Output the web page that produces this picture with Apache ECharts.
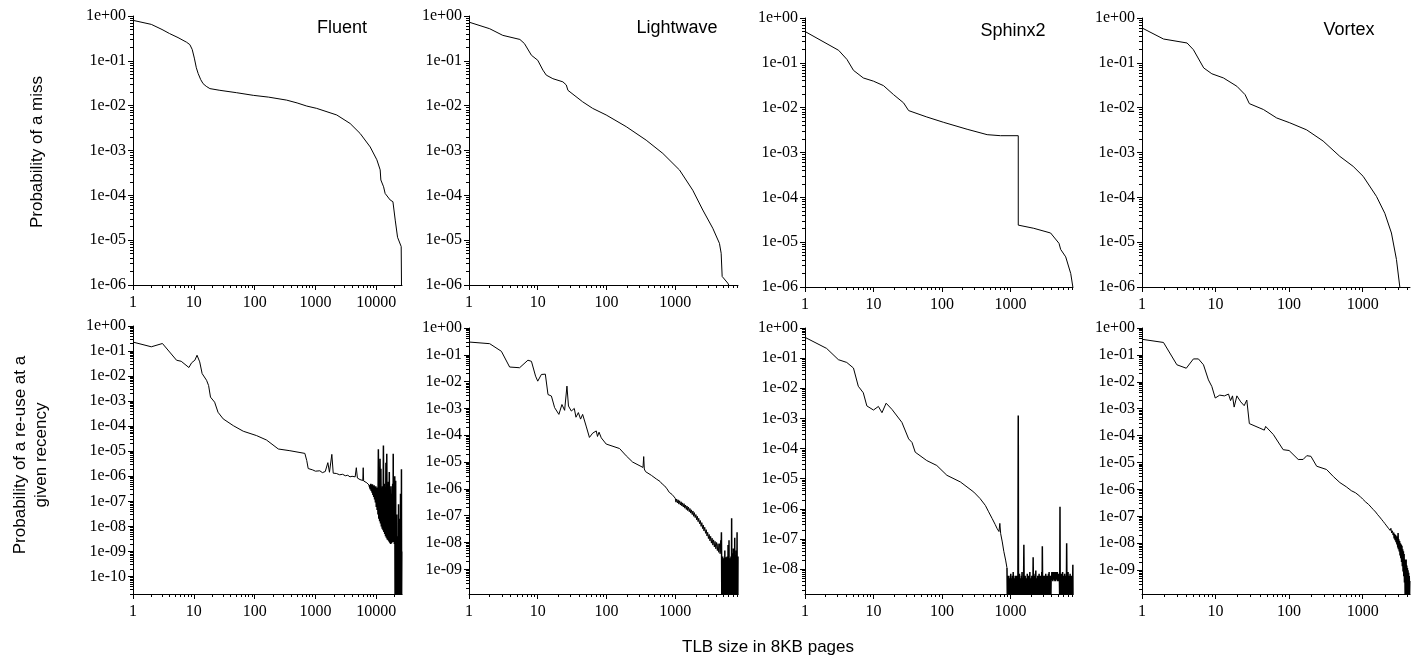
<!DOCTYPE html>
<html><head><meta charset="utf-8">
<script src="https://cdn.jsdelivr.net/npm/echarts@6/dist/echarts.min.js"></script>
<style>html,body{margin:0;padding:0;background:#fff}#c{width:1417px;height:665px}</style>
</head><body><div id="c"></div>
<script>
// ---------------- DATA ----------------
const panelTitles = ['Fluent', 'Lightwave', 'Sphinx2', 'Vortex'];
const yTitleTop = 'Probability of a miss';
const yTitleBottom = 'Probability of a re-use at a\ngiven recency';
const xTitle = 'TLB size in 8KB pages';

const xMaxes = [26500, 8192, 8192, 4400];
const yMinTop = [1e-6, 1e-6, 1e-6, 1e-6];
const yMinBottom = [2e-11, 1.2e-10, 1.5e-9, 1.3e-10];

const xTicksFluent = [1, 10, 100, 1000, 10000];
const xTicksOther = [1, 10, 100, 1000];
const yTicksTop = [1, 1e-1, 1e-2, 1e-3, 1e-4, 1e-5, 1e-6];
const yTicksFluentB = [1, 1e-1, 1e-2, 1e-3, 1e-4, 1e-5, 1e-6, 1e-7, 1e-8, 1e-9, 1e-10];
const yTicksLightB = [1, 1e-1, 1e-2, 1e-3, 1e-4, 1e-5, 1e-6, 1e-7, 1e-8, 1e-9];
const yTicksSphinxB = [1, 1e-1, 1e-2, 1e-3, 1e-4, 1e-5, 1e-6, 1e-7, 1e-8];
const yTicksVortexB = [1, 1e-1, 1e-2, 1e-3, 1e-4, 1e-5, 1e-6, 1e-7, 1e-8, 1e-9];

const fluentMiss = [[1,0.80],[2,0.65],[3,0.50],[4,0.405],[5.5,0.33],[7.6,0.26],[8.6,0.23],[9.4,0.18],[10.2,0.115],[11,0.07],[11.8,0.052],[13,0.038],[14.2,0.031],[16,0.027],[18.4,0.024],[26.8,0.022],[50,0.0195],[95,0.017],[170,0.0155],[336,0.0133],[500,0.0115],[719,0.0098],[1048,0.0087],[2240,0.0062],[3720,0.004],[5430,0.0024],[7950,0.0012],[10230,6.2e-4],[11600,3.7e-4],[11900,2.2e-4],[13200,1.55e-4],[14000,1.1e-4],[16900,7.9e-5],[18800,7.2e-5],[20500,2.8e-5],[22400,1.16e-5],[24100,1.16e-5],[25700,7.2e-6],[26000,1e-6]];

const lightMiss = [[1,0.73],[2,0.52],[3.1,0.37],[5.5,0.30],[6.4,0.243],[8.1,0.133],[10,0.103],[11.9,0.062],[13.3,0.048],[16.6,0.040],[23.2,0.034],[26,0.029],[27.5,0.022],[45,0.0122],[63,0.0087],[99,0.0062],[194,0.0034],[378,0.0017],[661,8.6e-4],[1157,3.66e-4],[1800,1.3e-4],[2520,4.7e-5],[3520,1.84e-5],[4400,8.5e-6],[4660,5.1e-6],[4820,1.55e-6],[5820,1.1e-6],[6000,1e-6]];

const sphinxMiss = [[1,0.50],[3.1,0.19],[4.1,0.119],[5.1,0.068],[7.1,0.046],[10,0.039],[14,0.031],[19.6,0.0196],[27.5,0.0128],[32.6,0.0086],[60,0.0062],[106,0.0047],[233,0.0033],[457,0.0025],[716,0.00237],[1300,0.00237],[1300,2.4e-5],[2190,2.04e-5],[3860,1.6e-5],[5120,9.4e-6],[5410,6.9e-6],[6410,4.7e-6],[7590,2.0e-6],[8150,1.0e-6]];

const vortexMiss = [[1,0.60],[1.96,0.34],[4.1,0.277],[5,0.196],[6.9,0.077],[8.9,0.057],[12.8,0.046],[19.5,0.030],[25.2,0.0195],[28.8,0.0123],[44.7,0.0091],[67.7,0.0059],[102,0.0046],[173,0.0032],[290,0.0018],[489,8.2e-4],[743,4.9e-4],[1016,2.94e-4],[1540,1.05e-4],[2000,4.4e-5],[2460,1.6e-5],[2880,4.1e-6],[3200,1e-6]];

const fluentReuse = [[1,0.228],[2,0.148],[3.05,0.20],[5.2,0.043],[6.2,0.039],[8.3,0.022],[9.2,0.034],[10.4,0.043],[11.3,0.068],[12.5,0.037],[13.7,0.0126],[16.2,0.0068],[17.5,0.0042],[18.8,0.00145],[22,9.1e-4],[25,3.6e-4],[30.4,1.96e-4],[44.6,1.05e-4],[65,6.3e-5],[108,4.2e-5],[157,2.8e-5],[245,1.23e-5],[380,1.05e-5],[670,8.2e-6],[720,4.2e-6],[760,2.04e-6],[900,1.8e-6],[1000,1.6e-6],[1180,1.66e-6],[1300,1.4e-6],[1450,1.55e-6],[1500,1.4e-6],[1600,3.5e-6],[1700,1.45e-6],[1860,7.5e-6],[1960,1.33e-6],[2200,1.3e-6],[2500,1.15e-6],[2800,1.2e-6],[3100,1.05e-6],[3400,1.1e-6],[3700,0.95e-6],[4000,1.0e-6],[4300,0.88e-6],[4500,0.95e-6],[4700,2.2e-6],[4900,8.5e-7],[5200,8.8e-7],[5400,7.4e-7],[5700,8e-7],[6000,6.8e-7],[6100,2.2e-6],[6200,6.5e-7],[6600,6.5e-7],[7000,5.5e-7],[7300,5.5e-7],[7600,4.5e-7]];
const fluentReuseTail = [[8000,3e-7],[8130,5e-7],[8260,2.6e-7],[8390,4.6e-7],[8520,2.2e-7],[8660,4.8e-7],[8800,1.8e-7],[8940,4.2e-7],[9080,1.5e-7],[9230,4.4e-7],[9380,1.2e-7],[9530,3.8e-7],[9680,9e-8],[9840,4e-7],[10000,6e-8],[10160,3.5e-7],[10320,4.5e-8],[10490,3.6e-7],[10660,3e-8],[10830,1.2e-5],[11000,2e-8],[11180,3e-7],[11360,1.6e-8],[11540,5e-6],[11730,1.3e-8],[11920,2e-6],[12110,1e-8],[12300,3e-7],[12500,8e-9],[12700,4e-7],[12900,7e-9],[13110,1.7e-5],[13320,6e-9],[13530,5e-7],[13750,5e-9],[13970,3e-7],[14190,4e-9],[14420,3.5e-6],[14650,3.5e-9],[14890,8e-6],[15130,3e-9],[15370,4e-7],[15620,2.8e-9],[15870,6e-7],[16120,2.5e-9],[16380,1.5e-6],[16640,2.2e-9],[16910,3e-7],[17180,2e-9],[17460,4e-7],[17740,2.1e-9],[18020,2e-7],[18310,2.3e-9],[18610,5e-7],[18910,2.5e-9],[19000,8e-6],[19210,2.4e-9],[19520,5e-7],[19830,2e-9],[20150,1e-6],[20400,1e-11],[20550,2.2e-10],[20700,1e-11],[20850,6.6e-7],[21000,1e-11],[21150,2e-10],[21300,1e-11],[21450,1.5e-9],[21600,1e-11],[21750,3e-8],[21900,1e-11],[22050,2.1e-10],[22200,1e-11],[22350,4e-9],[22500,1e-11],[22650,1.5e-9],[22800,1e-11],[22950,2e-10],[23100,1e-11],[23250,7.6e-8],[23400,1e-11],[23550,2.5e-10],[23700,1e-11],[23850,3e-9],[24000,1e-11],[24150,2e-10],[24300,1e-11],[24450,2e-8],[24600,1e-11],[24750,2e-10],[24900,1e-11],[25050,2e-7],[25200,1e-11],[25350,2e-10],[25500,1e-11],[25650,5e-9],[25800,1e-11],[25950,1.9e-6],[26100,1e-11],[26300,1e-9]];

const lightReuse = [[1,0.30],[2,0.26],[2.96,0.135],[3.9,0.035],[5.45,0.033],[7.2,0.063],[8.1,0.057],[9.3,0.016],[10,0.0104],[11.3,0.0185],[12.9,0.019],[14.1,0.0033],[15.8,0.0029],[17.6,0.00107],[20.3,6e-4],[22.5,0.0014],[24.6,8.5e-4],[26.6,0.0068],[28,0.00123],[30.8,8e-4],[34,0.001],[36,4.7e-4],[39,7e-4],[42,4e-4],[45,6e-4],[50.6,2.2e-4],[56.5,8.3e-5],[63,1.2e-4],[71,1.45e-4],[74,9e-5],[78,1.3e-4],[84,8e-5],[99,4.7e-5],[155,3.2e-5],[194,1.7e-5],[240,1e-5],[340,6.3e-6],[348,1.6e-5],[355,5.5e-6],[370,4.4e-6],[450,3.2e-6],[530,2.35e-6],[600,1.9e-6],[650,1.5e-6],[700,1.3e-6],[760,1.0e-6],[820,7.4e-7],[860,8e-7],[900,6.2e-7],[950,6.6e-7],[1000,4.5e-7],[1025,3.2e-7],[1050,4.2e-7],[1076,3e-7],[1103,3.9e-7],[1130,2.7e-7],[1160,3.6e-7],[1190,2.5e-7],[1220,3.3e-7],[1250,2.3e-7],[1280,3e-7],[1310,2.1e-7],[1345,2.8e-7],[1380,1.9e-7],[1415,2.5e-7],[1450,1.7e-7],[1485,2.3e-7],[1520,1.55e-7],[1560,2.1e-7],[1600,1.4e-7],[1640,1.85e-7],[1680,1.25e-7],[1720,1.65e-7],[1765,1.1e-7],[1810,1.5e-7],[1855,9.5e-8],[1900,1.3e-7],[1950,8.5e-8],[2000,1.1e-7],[2050,7e-8],[2100,9.5e-8],[2150,6e-8],[2200,8e-8],[2260,5e-8],[2320,6.6e-8],[2380,4e-8],[2440,5.5e-8],[2500,3.3e-8],[2560,4.5e-8],[2620,2.7e-8],[2690,3.7e-8],[2760,2.2e-8],[2830,3e-8],[2900,1.75e-8],[2970,2.4e-8],[3040,1.4e-8],[3120,2e-8],[3200,1.15e-8],[3280,1.7e-8],[3360,9.5e-9],[3440,1.45e-8],[3530,8e-9],[3620,1.25e-8],[3710,6.8e-9],[3800,1.1e-8],[3900,5.8e-9],[4000,1e-8],[4100,5e-9],[4200,9e-9],[4300,4.3e-9],[4400,9e-9],[4500,3.8e-9],[4600,1.2e-8],[4660,4.3e-9]];
const lightReuseTail = [[4700,2.4e-8],[4730,3e-9],[4760,1e-10],[4790,2.2e-9],[4820,1e-10],[4850,1.6e-9],[4880,1e-10],[4910,3e-9],[4940,1e-10],[4970,2e-9],[5000,1e-10],[5030,1.5e-9],[5060,1e-10],[5090,2.6e-9],[5120,1e-10],[5150,2.5e-9],[5180,1e-10],[5210,1.8e-9],[5240,1e-10],[5270,5e-9],[5300,1e-10],[5330,2.2e-9],[5360,1e-10],[5390,2e-9],[5420,1e-10],[5450,1.8e-9],[5480,1e-10],[5510,2.8e-9],[5540,1e-10],[5570,1.8e-9],[5600,1e-10],[5630,2.4e-9],[5660,1e-10],[5690,3e-9],[5720,1e-10],[5750,2e-9],[5780,1e-10],[5810,2.2e-9],[5840,1e-10],[5870,8e-9],[5900,1e-10],[5930,2.4e-9],[5960,1e-10],[5990,2e-9],[6020,1e-10],[6060,1.2e-8],[6100,1e-10],[6140,2.5e-9],[6180,1e-10],[6220,1.7e-9],[6260,1e-10],[6300,2.6e-9],[6340,1e-10],[6380,1.5e-9],[6420,1e-10],[6460,3e-9],[6500,1e-10],[6540,2e-9],[6580,1e-10],[6620,8e-8],[6660,1e-10],[6700,2e-9],[6740,1e-10],[6780,4e-9],[6820,1e-10],[6860,2.2e-9],[6900,1e-10],[6940,2e-9],[6980,1e-10],[7020,6e-9],[7060,1e-10],[7100,2.4e-9],[7140,1e-10],[7180,2e-9],[7220,1e-10],[7260,1.6e-9],[7300,1e-10],[7340,1.5e-8],[7380,1e-10],[7420,2e-9],[7460,1e-10],[7500,3e-9],[7540,1e-10],[7580,2.2e-9],[7620,1e-10],[7660,2e-9],[7700,1e-10],[7740,5e-9],[7780,1e-10],[7820,2.4e-9],[7860,1e-10],[7900,1.8e-9],[7940,2.4e-8],[7980,1e-10],[8020,2e-9],[8060,1e-10],[8100,2.6e-9],[8150,1e-10],[8192,3e-9]];

const sphinxReuse = [[1,0.49],[2.07,0.21],[3.07,0.089],[4.07,0.072],[5.1,0.047],[6.0,0.0117],[7.1,0.0071],[8.0,0.0026],[10,0.0019],[11.8,0.0025],[13.3,0.00155],[14.2,0.0017],[15.3,0.0032],[18.6,0.002],[26,7.4e-4],[27.7,7.8e-4],[32.6,2.1e-4],[36.5,1.6e-4],[40.7,7.6e-5],[60,4.0e-5],[84,2.75e-5],[118,1.3e-5],[186,7.8e-6],[292,3.6e-6],[360,2.2e-6],[430,1.3e-6],[480,8e-7],[540,4.8e-7],[600,3e-7],[640,2.2e-7],[680,1.77e-7],[700,3.3e-7],[720,1.5e-7],[760,8e-8],[800,3.9e-8],[850,2e-8],[890,1.1e-8]];
const sphinxReuseTail = [[900,1e-9],[910,4e-9],[920,1e-9],[930,6e-9],[940,1e-9],[950,5e-9],[960,1e-9],[970,4e-9],[980,1e-9],[990,6e-9],[1000,1e-9],[1010,7e-9],[1020,1e-9],[1030,4e-9],[1040,1e-9],[1050,5e-9],[1060,1e-9],[1072,6e-9],[1085,1e-9],[1097,8e-9],[1110,1e-9],[1122,5e-9],[1135,1e-9],[1147,4e-9],[1160,1e-9],[1172,6e-9],[1185,1e-9],[1197,5e-9],[1210,1e-9],[1225,6e-9],[1240,1e-9],[1255,5e-9],[1270,1e-9],[1285,4e-9],[1300,1.25e-3],[1310,1e-9],[1325,5e-9],[1340,1e-9],[1355,7e-9],[1370,1e-9],[1385,5e-9],[1400,1e-9],[1415,4e-9],[1430,1e-9],[1445,6e-9],[1460,1e-9],[1475,8e-9],[1490,1e-9],[1505,4e-9],[1520,1e-9],[1535,5e-9],[1550,1e-9],[1570,6.4e-8],[1590,1e-9],[1607,5e-9],[1625,1e-9],[1642,6e-9],[1660,1e-9],[1680,4e-9],[1700,1e-9],[1720,5e-9],[1740,1e-9],[1760,7e-9],[1780,1e-9],[1800,5e-9],[1820,1e-9],[1840,6e-9],[1860,1e-9],[1880,5e-9],[1900,1e-9],[1920,8e-9],[1940,1e-9],[1962,5e-9],[1985,1e-9],[2007,4e-9],[2030,1e-9],[2052,6e-9],[2075,1e-9],[2097,5e-9],[2120,1e-9],[2145,2.5e-8],[2170,1e-9],[2195,6e-9],[2220,1e-9],[2245,5e-9],[2270,1e-9],[2295,7e-9],[2320,1e-9],[2345,9e-9],[2370,1e-9],[2395,5e-9],[2420,1e-9],[2447,4e-9],[2475,1e-9],[2502,6e-9],[2530,1e-9],[2560,5e-9],[2590,1e-9],[2620,7e-9],[2650,1e-9],[2680,6e-9],[2710,1e-9],[2740,5e-9],[2770,1e-9],[2800,6e-9],[2830,1e-9],[2865,8e-9],[2900,1e-9],[2920,5.7e-8],[2960,1e-9],[2995,6e-9],[3030,1e-9],[3065,5e-9],[3100,1e-9],[3135,6e-9],[3170,1e-9],[3205,4e-9],[3240,1e-9],[3275,7e-9],[3310,1e-9],[3350,5e-9],[3390,1e-9],[3430,6e-9],[3470,1e-9],[3510,5e-9],[3550,1e-9],[3590,7e-9],[3630,1e-9],[3670,8e-9],[3710,1e-9],[3755,6e-9],[3800,1e-9],[3845,5e-9],[3890,1e-9],[3935,6e-9],[3980,5e-9],[4025,8e-9],[4070,4.5e-9],[4115,7e-9],[4160,4e-9],[4210,8e-9],[4260,4.5e-9],[4310,7e-9],[4360,4.5e-9],[4410,8e-9],[4460,4e-9],[4510,7e-9],[4560,4e-9],[4615,8e-9],[4670,4.5e-9],[4725,7e-9],[4780,4.5e-9],[4835,8e-9],[4890,4e-9],[4945,7e-9],[5000,4e-9],[5060,7e-9],[5120,4e-9],[5180,6e-9],[5240,1e-9],[5290,1.17e-6],[5330,1e-9],[5390,6e-9],[5450,1e-9],[5515,7e-9],[5580,1e-9],[5645,6e-9],[5710,1e-9],[5775,8e-9],[5840,1e-9],[5910,5e-9],[5980,1e-9],[6050,6e-9],[6120,1e-9],[6190,7e-9],[6260,1e-9],[6330,5e-9],[6400,1e-9],[6475,6e-9],[6550,1e-9],[6620,7.3e-8],[6700,1e-9],[6780,7e-9],[6860,1e-9],[6940,8e-9],[7020,1e-9],[7100,6e-9],[7180,1e-9],[7265,5e-9],[7350,1e-9],[7435,7e-9],[7520,1e-9],[7610,6e-9],[7700,1e-9],[7790,5e-9],[7880,1e-9],[7970,6e-9],[8060,1e-9],[8150,1.4e-8],[8192,1e-9]];

const vortexReuse = [[1,0.38],[1.96,0.29],[2.98,0.043],[4.0,0.032],[5.0,0.071],[5.85,0.071],[6.85,0.043],[8.0,0.0118],[8.9,0.0067],[9.9,0.0025],[11.4,0.0032],[13.2,0.003],[15,0.0035],[16,0.002],[17,0.003],[17.9,0.00115],[19.5,0.003],[22,0.0018],[24.5,0.0013],[26.6,0.0021],[28.8,2.8e-4],[40,1.9e-4],[46,1.6e-4],[48,2.2e-4],[61,1.1e-4],[83,3.0e-5],[100,2.8e-5],[133,1.3e-5],[155,1.3e-5],[174,1.8e-5],[198,1.7e-5],[237,7.3e-6],[323,5.5e-6],[400,3e-6],[490,1.8e-6],[600,1.25e-6],[700,9e-7],[800,7.5e-7],[915,5.6e-7],[960,5.6e-7],[1000,4.4e-7],[1050,4.4e-7],[1100,3.4e-7],[1150,3.6e-7],[1200,2.8e-7],[1250,2.9e-7],[1300,2.2e-7],[1350,2.4e-7],[1390,1.8e-7],[1450,1.9e-7],[1500,1.45e-7],[1550,1.55e-7],[1600,1.15e-7],[1650,1.25e-7],[1700,9.5e-8],[1750,1.05e-7],[1800,7.8e-8],[1850,8.6e-8],[1900,6.5e-8],[1950,7.4e-8],[2000,5.4e-8],[2060,6e-8],[2120,4.4e-8],[2180,5e-8],[2240,3.6e-8],[2300,4.2e-8],[2360,3e-8],[2420,3.6e-8],[2480,2.4e-8],[2540,2.9e-8],[2600,2e-8]];
const vortexReuseTail = [[2640,2.5e-8],[2680,1.5e-8],[2720,2.2e-8],[2760,1.3e-8],[2800,2e-8],[2840,1.1e-8],[2880,1.8e-8],[2920,9e-9],[2960,1.6e-8],[3000,7e-9],[3030,2.4e-8],[3060,6e-9],[3100,1.4e-8],[3140,5e-9],[3180,1.2e-8],[3220,3.5e-9],[3260,1e-8],[3300,2.8e-9],[3340,9e-9],[3380,2e-9],[3420,8e-9],[3460,1.4e-9],[3500,6e-9],[3540,9e-10],[3580,5e-9],[3620,6e-10],[3660,4e-9],[3700,3.5e-10],[3740,2.5e-9],[3780,1e-10],[3820,2e-9],[3860,1e-10],[3900,2.5e-9],[3940,1e-10],[3980,1.5e-9],[4020,1e-10],[4060,1.2e-9],[4100,1e-10],[4140,1e-9],[4180,1e-10],[4220,8e-10],[4260,1e-10],[4300,6e-10],[4340,1e-10],[4370,4e-10]];

// ---------------- LAYOUT ----------------
const grids = [
  {left:133, top:16, width:269, height:269},
  {left:469, top:16, width:269, height:269},
  {left:805, top:18, width:268, height:269},
  {left:1142, top:18, width:268, height:269},
  {left:133, top:326, width:269, height:268},
  {left:469, top:328, width:269, height:266},
  {left:805, top:328, width:268, height:266},
  {left:1142, top:328, width:268, height:266}
];
const panelData = [fluentMiss, lightMiss, sphinxMiss, vortexMiss, fluentReuse, lightReuse, sphinxReuse, vortexReuse];
const panelTail = [null, null, null, null, fluentReuseTail, lightReuseTail, sphinxReuseTail, vortexReuseTail];
const panelXTicks = [xTicksFluent, xTicksOther, xTicksOther, xTicksOther, xTicksFluent, xTicksOther, xTicksOther, xTicksOther];
const panelYTicks = [yTicksTop, yTicksTop, yTicksTop, yTicksTop, yTicksFluentB, yTicksLightB, yTicksSphinxB, yTicksVortexB];
const panelYMin = yMinTop.concat(yMinBottom);

function minorTicks(lo, hi) {
  const out = [];
  for (let e = Math.floor(Math.log10(lo)); e <= Math.ceil(Math.log10(hi)); e++) {
    for (let k = 2; k <= 9; k++) {
      const v = k * Math.pow(10, e);
      if (v >= lo && v <= hi) out.push(v);
    }
  }
  return out;
}
const expLabel = v => {
  const e = Math.round(Math.log10(v));
  return '1e' + (e < 0 ? '-' : '+') + String(Math.abs(e)).padStart(2, '0');
};
const serif = 'Liberation Serif';
const sans = 'Liberation Sans';

const xAxes = [], yAxes = [], series = [];
grids.forEach((g, i) => {
  const xmax = xMaxes[i % 4];
  const ymin = panelYMin[i];
  xAxes.push({
    type: 'log', gridIndex: i, min: 1, max: xmax, position: 'bottom',
    axisLine: {show: true, lineStyle: {color: '#000', width: 1}},
    axisTick: {show: true, length: 5, lineStyle: {color: '#000'}, customValues: panelXTicks[i]},
    axisLabel: {show: true, margin: 10, color: '#000', fontFamily: serif, fontSize: 16,
      customValues: panelXTicks[i], formatter: v => String(Math.round(v))},
    splitLine: {show: false}
  });
  xAxes.push({
    type: 'log', gridIndex: i, min: 1, max: xmax, position: 'bottom',
    axisLine: {show: false},
    axisTick: {show: true, length: 3, lineStyle: {color: '#000'}, customValues: minorTicks(1, xmax)},
    axisLabel: {show: false}, splitLine: {show: false}
  });
  yAxes.push({
    type: 'log', gridIndex: i, min: ymin, max: 1, position: 'left',
    axisLine: {show: true, lineStyle: {color: '#000', width: 1}},
    axisTick: {show: true, length: 5, lineStyle: {color: '#000'}, customValues: panelYTicks[i]},
    axisLabel: {show: true, margin: 7, color: '#000', fontFamily: serif, fontSize: 16,
      customValues: panelYTicks[i], formatter: expLabel},
    splitLine: {show: false}
  });
  yAxes.push({
    type: 'log', gridIndex: i, min: ymin, max: 1, position: 'left',
    axisLine: {show: false},
    axisTick: {show: true, length: 3, lineStyle: {color: '#000'}, customValues: minorTicks(ymin, 1)},
    axisLabel: {show: false}, splitLine: {show: false}
  });
  const main = panelData[i];
  series.push({
    type: 'line', xAxisIndex: 2 * i, yAxisIndex: 2 * i, data: main,
    showSymbol: false, symbol: 'none', silent: true, clip: true,
    lineStyle: {color: '#000', width: 1}
  });
  if (panelTail[i]) {
    series.push({
      type: 'line', xAxisIndex: 2 * i, yAxisIndex: 2 * i,
      data: [main[main.length - 1]].concat(panelTail[i]),
      showSymbol: false, symbol: 'none', silent: true, clip: true,
      lineStyle: {color: '#000', width: 1.5}
    });
  }
});

const titlePos = [[342, 28], [677, 28], [1013, 31], [1349, 30]];
const graphic = [];
panelTitles.forEach((t, i) => graphic.push({
  type: 'text', x: titlePos[i][0], y: titlePos[i][1],
  style: {text: t, fill: '#000', font: '18px ' + sans, textAlign: 'center', textVerticalAlign: 'middle'}
}));
graphic.push({type: 'text', x: 37, y: 152, rotation: Math.PI / 2,
  style: {text: yTitleTop, fill: '#000', font: '17px ' + sans, textAlign: 'center', textVerticalAlign: 'middle'}});
graphic.push({type: 'text', x: 31, y: 455, rotation: Math.PI / 2,
  style: {text: yTitleBottom, fill: '#000', font: '17px ' + sans, textAlign: 'center', textVerticalAlign: 'middle', lineHeight: 21}});
graphic.push({type: 'text', x: 768, y: 647,
  style: {text: xTitle, fill: '#000', font: '17px ' + sans, textAlign: 'center', textVerticalAlign: 'middle'}});

const chart = echarts.init(document.getElementById('c'), null, {renderer: 'canvas'});
chart.setOption({
  animation: false,
  backgroundColor: '#fff',
  grid: grids.map(g => Object.assign({containLabel: false}, g)),
  xAxis: xAxes, yAxis: yAxes, series: series, graphic: graphic
});
</script></body></html>
